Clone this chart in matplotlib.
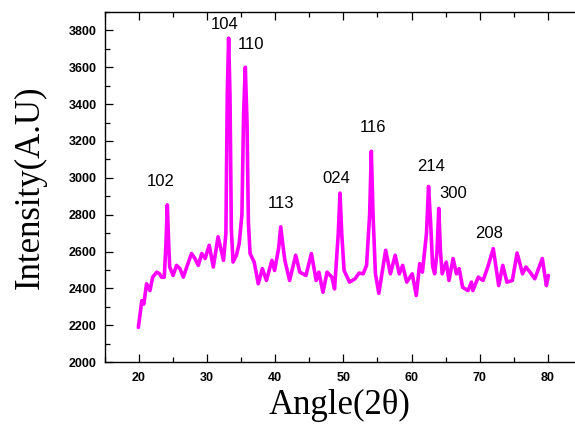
import matplotlib.pyplot as plt
from matplotlib.ticker import MultipleLocator

# XRD pattern
angle = [19.9, 20.4, 20.7, 21.1, 21.6, 22.0, 22.6, 23.0, 23.3, 23.7, 23.95, 24.15,
         24.35, 24.5, 25.0, 25.5, 26.0, 26.5, 27.0, 27.7, 28.2, 28.7, 29.2, 29.7,
         30.3, 30.9, 31.6, 32.4, 32.75, 32.95, 33.15, 33.35, 33.55, 33.8, 34.3,
         34.7, 35.1, 35.35, 35.6, 35.85, 36.05, 36.3, 36.9, 37.5, 38.1, 38.7, 39.5,
         39.9, 40.5, 40.8, 41.1, 41.4, 42.1, 43.0, 43.6, 44.5, 45.3, 46.0, 46.4,
         47.0, 47.6, 48.3, 48.7, 49.25, 49.5, 49.75, 50.1, 50.9, 51.7, 52.3, 52.9,
         53.4, 53.85, 54.1, 54.35, 54.7, 55.2, 56.2, 56.9, 57.6, 58.2, 58.7, 59.3,
         60.1, 60.7, 61.2, 61.6, 62.2, 62.5, 62.8, 63.1, 63.4, 63.75, 64.0, 64.25,
         64.5, 65.1, 65.5, 66.1, 66.6, 67.0, 67.5, 68.3, 68.8, 69.0, 69.8, 70.5,
         71.2, 72.0, 72.8, 73.4, 74.0, 74.8, 75.5, 76.3, 76.8, 77.4, 78.1, 79.2,
         79.8, 80.1]
intensity = [2188, 2333, 2315, 2425, 2388, 2461, 2488, 2479, 2461, 2461, 2640, 2853,
             2640, 2516, 2470, 2525, 2507, 2461, 2516, 2589, 2562, 2525, 2589, 2562,
             2634, 2516, 2680, 2552, 2700, 3450, 3758, 3450, 2720, 2543, 2580,
             2643, 2800, 3350, 3600, 3300, 2760, 2589, 2543, 2425, 2507, 2443, 2552,
             2497, 2620, 2734, 2640, 2552, 2443, 2580, 2488, 2470, 2589, 2443, 2488,
             2379, 2488, 2461, 2397, 2700, 2917, 2700, 2497, 2434, 2452, 2483, 2479,
             2525, 2800, 3144, 2800, 2479, 2373, 2607, 2479, 2580, 2479, 2525, 2434,
             2479, 2361, 2534, 2488, 2700, 2953, 2760, 2520, 2479, 2600, 2834, 2600,
             2479, 2543, 2443, 2562, 2479, 2507, 2406, 2388, 2434, 2388, 2461, 2443,
             2516, 2616, 2415, 2525, 2434, 2443, 2592, 2479, 2516, 2488, 2452, 2562,
             2415, 2470]

# peak labels and where they sit
peak_names = ['102', '104', '110', '113', '024', '116', '214', '300', '208']
peak_x = [23.2, 32.5, 36.4, 40.9, 49.0, 54.3, 62.8, 66.1, 71.4]
peak_y = [2980, 3832, 3722, 2862, 2999, 3272, 3059, 2913, 2698]

fig = plt.figure(figsize=(5.75, 4.28), dpi=100)
ax = fig.add_axes([0.1826, 0.154, 0.8174, 0.818])

ax.plot(angle, intensity, color='#FF00FF', linewidth=2.6,
        solid_joinstyle='round', solid_capstyle='round')

for name, px, py in zip(peak_names, peak_x, peak_y):
    ax.text(px, py, name, ha='center', va='center', fontsize=12,
            family='Liberation Sans')

ax.set_xlim(15, 84)
ax.set_ylim(2000, 3900)
ax.xaxis.set_major_locator(MultipleLocator(10))
ax.xaxis.set_minor_locator(MultipleLocator(5))
ax.yaxis.set_major_locator(MultipleLocator(200))
ax.yaxis.set_minor_locator(MultipleLocator(100))
ax.tick_params(which='both', direction='in', top=True, right=False, width=0.9)
ax.tick_params(which='major', length=6)
ax.tick_params(which='minor', length=3.5)
ax.tick_params(axis='x', pad=7)
ax.tick_params(axis='y', pad=6)
for lab in ax.get_xticklabels() + ax.get_yticklabels():
    lab.set_family('Liberation Sans')
    lab.set_fontweight('bold')
    lab.set_fontsize(9)

for s in ['left', 'bottom', 'top']:
    ax.spines[s].set_linewidth(1.0)
ax.spines['right'].set_visible(False)

ax.set_xlabel('Angle(2θ)', family='Liberation Serif', fontsize=25, labelpad=4)
ax.set_ylabel('Intensity(A.U)', family='Liberation Serif', fontsize=25, labelpad=16)

fig.savefig('out.png', dpi=100)
